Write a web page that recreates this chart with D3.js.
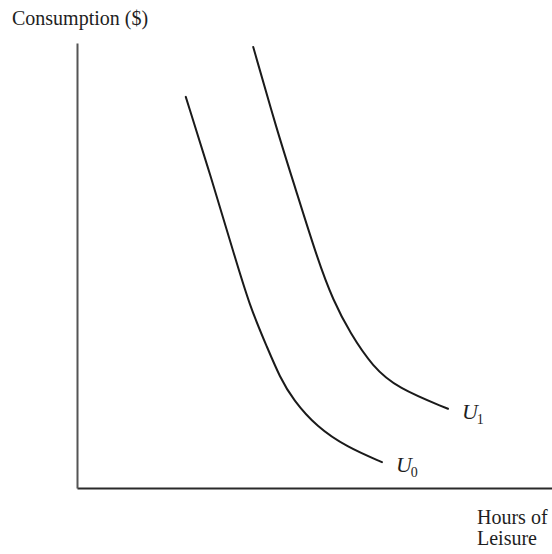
<!DOCTYPE html>
<html>
<head>
  <script type="text/javascript" src="https://cdn.jsdelivr.net/npm/d3@7"></script>
  <style>
    body { margin: 0; background: #fff; }
    text { font-family: "Liberation Serif", "DejaVu Serif", serif; fill: #1e1e1e; }
  </style>
</head>
<body>
  <div id="chart"></div>
  <script type="text/javascript">
    var w = 552;
    var h = 554;

    // indifference curve U0 (leisure, consumption)
    var u0Leisure = [22.9, 28.4, 32.6, 36.4, 40.0, 42.7, 45.5, 50.5, 56.8, 64.2];
    var u0Consumption = [87.9, 69.2, 54.2, 40.7, 31.7, 24.9, 19.8, 13.7, 9.2, 5.8];
    // indifference curve U1
    var u1Leisure = [37.1, 42.1, 45.9, 50.7, 53.9, 57.5, 62.3, 67.4, 78.1];
    var u1Consumption = [99.1, 80.4, 67.6, 51.2, 42.2, 34.8, 27.2, 22.5, 17.8];

    var curveNames = ["U", "U"];
    var curveSubs = ["0", "1"];

    var svg = d3.select("#chart")
      .append("svg")
      .attr("width", w)
      .attr("height", h);

    var xScale = d3.scaleLinear()
      .domain([0, 100])
      .range([77, 552]);

    var yScale = d3.scaleLinear()
      .domain([0, 100])
      .range([488, 43]);

    // axes: plain lines, no ticks
    var xAxis = d3.axisBottom(xScale).tickValues([]).tickSizeOuter(0);
    var yAxis = d3.axisLeft(yScale).tickValues([]).tickSizeOuter(0);

    svg.append("g")
      .attr("class", "x_Axis")
      .attr("transform", "translate(0," + yScale(0) + ")")
      .call(xAxis)
      .select(".domain")
      .attr("stroke", "#2a2a2a")
      .attr("stroke-width", 2.2);

    svg.append("g")
      .attr("class", "y_Axis")
      .attr("transform", "translate(" + xScale(0) + ",0)")
      .call(yAxis)
      .select(".domain")
      .attr("stroke", "#555")
      .attr("stroke-width", 2);

    var line = d3.line()
      .x(function(d) { return xScale(d[0]); })
      .y(function(d) { return yScale(d[1]); })
      .curve(d3.curveBasis);

    var curves = [
      d3.zip(u0Leisure, u0Consumption),
      d3.zip(u1Leisure, u1Consumption)
    ];

    curves.forEach(function(pts, i) {
      svg.append("path")
        .datum(pts)
        .attr("fill", "none")
        .attr("stroke", "#1a1a1a")
        .attr("stroke-width", 2)
        .attr("stroke-linecap", "round")
        .attr("d", line);

      var last = pts[pts.length - 1];
      var t = svg.append("text")
        .attr("x", xScale(last[0]) + 14)
        .attr("y", yScale(last[1]) + 10)
        .style("font-size", "22px")
        .style("font-style", "italic");
      t.append("tspan").text(curveNames[i]);
      t.append("tspan")
        .attr("dx", -1)
        .attr("dy", 5)
        .style("font-size", "14px")
        .style("font-style", "normal")
        .text(curveSubs[i]);
    });

    svg.append("text")
      .attr("x", 12)
      .attr("y", 25)
      .style("font-size", "20px")
      .text("Consumption ($)");

    svg.append("text")
      .attr("x", 477)
      .attr("y", 524)
      .style("font-size", "20px")
      .text("Hours of");

    svg.append("text")
      .attr("x", 477)
      .attr("y", 545)
      .style("font-size", "20px")
      .text("Leisure");
  </script>
</body>
</html>
